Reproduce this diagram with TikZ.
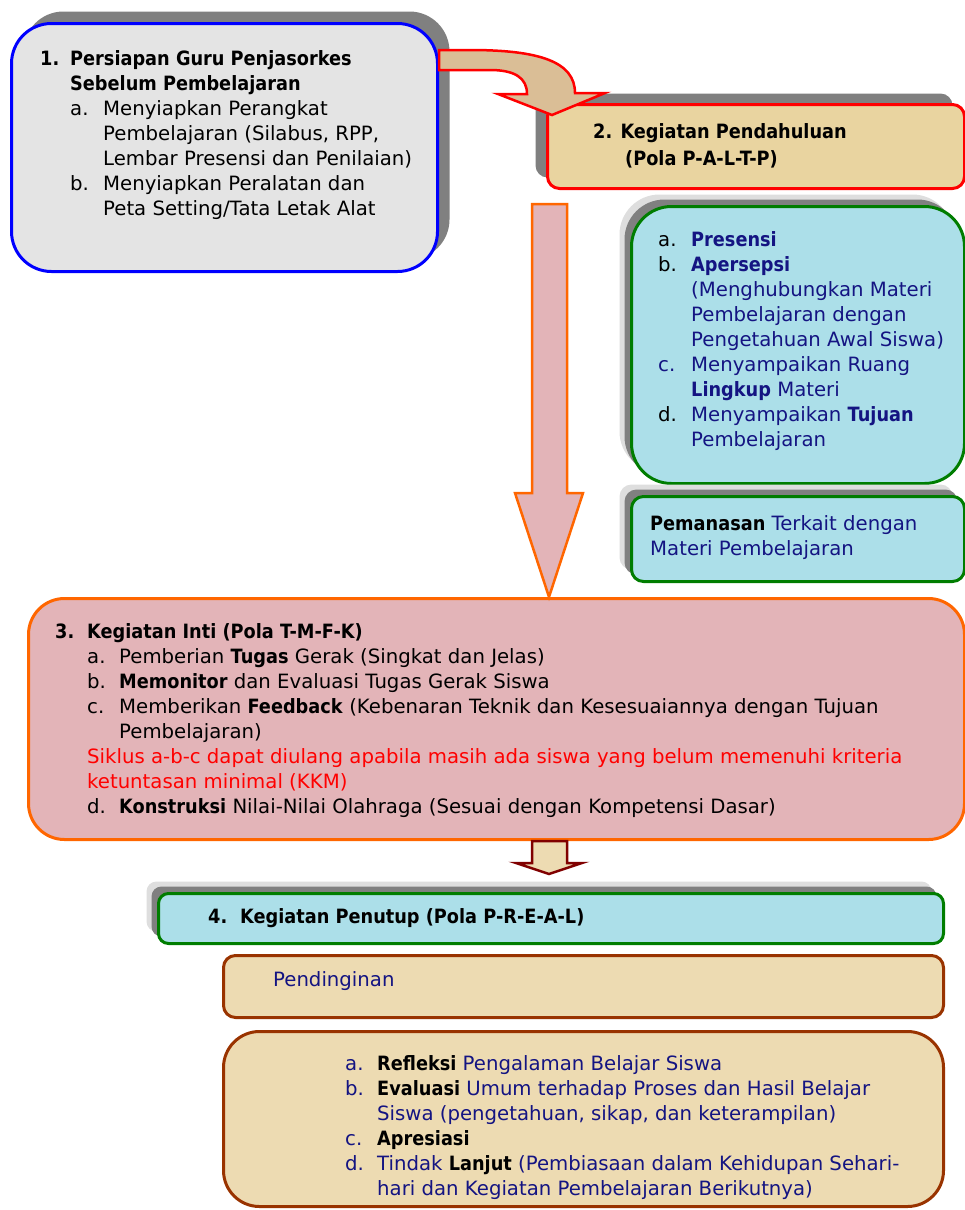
\documentclass[tikz,border=0pt]{standalone}
\usepackage{fontspec}
\setmainfont{DejaVu Sans}[BoldFeatures={FakeStretch=0.9}]
\usetikzlibrary{shadows}
\definecolor{marble}{RGB}{228,228,228}
\definecolor{papyrus}{RGB}{233,212,160}
\definecolor{bentfill}{RGB}{218,190,150}
\definecolor{water}{RGB}{172,223,233}
\definecolor{rose}{RGB}{227,180,184}
\definecolor{parch}{RGB}{237,219,178}
\definecolor{darkgreen}{RGB}{0,125,0}
\definecolor{brick}{RGB}{153,51,0}
\definecolor{maroon}{RGB}{128,0,0}
\definecolor{orng}{RGB}{255,102,0}
\definecolor{navytxt}{RGB}{20,20,130}
\definecolor{shadowgray}{RGB}{128,128,128}
\definecolor{halo}{RGB}{222,222,222}
\newcommand\lbl[2][32pt]{\makebox[#1][l]{#2}}
\newcommand\ind[1][32pt]{\hspace*{#1}}

\begin{document}
\begin{tikzpicture}[x=1pt,y=-1pt,
  box/.style={draw,line width=3pt,anchor=north west,inner sep=0pt},
  txt/.style={anchor=north west,inner sep=0pt,align=left,font=\fontsize{19.7}{25}\selectfont},
  gshadow/.style={drop shadow={shadow xshift=-12pt,shadow yshift=12pt,fill=halo,opacity=1},
                  drop shadow={shadow xshift=-7pt,shadow yshift=7pt,fill=shadowgray,opacity=1}},
  blockarrow/.style={line width=2.5pt,line join=miter}]
\useasboundingbox (0,0) rectangle (964,1210);

\node[box,draw=blue,fill=marble,rounded corners=40pt,minimum width=426pt,minimum height=248pt,
  drop shadow={shadow xshift=12pt,shadow yshift=12pt,fill=shadowgray,opacity=1}] (k1) at (10,22) {};
\node[box,draw=red,fill=papyrus,rounded corners=12pt,minimum width=417pt,minimum height=84pt,
  drop shadow={shadow xshift=-12pt,shadow yshift=11pt,fill=shadowgray,opacity=1}] (k2) at (546,103) {};
\node[box,gshadow,draw=darkgreen,fill=water,rounded corners=40pt,minimum width=333pt,minimum height=277pt] (k2a) at (630,205) {};
\node[box,gshadow,draw=darkgreen,fill=water,rounded corners=12pt,minimum width=333pt,minimum height=85pt] (k2b) at (630,495) {};
\node[box,draw=orng,fill=rose,rounded corners=36pt,minimum width=936pt,minimum height=241pt] (k3) at (27,597) {};
\node[box,gshadow,draw=darkgreen,fill=water,rounded corners=10pt,minimum width=785pt,minimum height=50pt] (k4) at (157,892) {};
\node[box,draw=brick,fill=parch,rounded corners=12pt,minimum width=720pt,minimum height=62pt] (k4a) at (222,954) {};
\node[box,draw=brick,fill=parch,rounded corners=36pt,minimum width=720pt,minimum height=175pt] (k4b) at (222,1030) {};

\draw[blockarrow,draw=red,fill=bentfill] ([yshift=-28pt]k1.north east) -- (470,50)
  .. controls (540,50) and (575,62) .. (575,93) -- (605,93)
  -- ([shift={(6,12)}]k2.north west) -- (498,94) -- (527,94)
  .. controls (527,78) and (515,70) .. (490,70) -- ([yshift=-48pt]k1.north east) -- cycle;

\coordinate (m) at (549,204);
\draw[blockarrow,draw=orng,fill=rose] (532,204) -- (532,493) -- (515,493) -- (m |- k3.north)
  -- (583,493) -- (567,493) -- (567,204) -- cycle;
\draw[blockarrow,draw=maroon,fill=parch] (532,0 |- k3.south) -- (532,863) -- (516,863)
  -- ([yshift=18pt]m |- k4.north) -- (582,863) -- (567,863) -- (567,0 |- k3.south) -- cycle;

\node[txt] (t1) at ([shift={(30,28)}]k1.north west) {\lbl[30pt]{\textbf{1.}}\textbf{Persiapan Guru Penjasorkes}\\
  \ind[30pt]\textbf{Sebelum Pembelajaran}\\
  \ind[30pt]\lbl[33pt]{a.}Menyiapkan Perangkat\\
  \ind[63pt]Pembelajaran (Silabus, RPP,\\
  \ind[63pt]Lembar Presensi dan Penilaian)\\
  \ind[30pt]\lbl[33pt]{b.}Menyiapkan Peralatan dan\\
  \ind[63pt]Peta Setting/Tata Letak Alat};
\node[txt,font=\fontsize{19.7}{27}\selectfont] (t2) at ([shift={(47,20)}]k2.north west) {\textbf{2. Kegiatan Pendahuluan}\\
  \ind\textbf{(Pola P-A-L-T-P)}};
\node[txt,text=navytxt] (t2a) at ([shift={(28,26)}]k2a.north west) {\lbl[33pt]{\color{black}a.}\textbf{Presensi}\\
  \lbl[33pt]{\color{black}b.}\textbf{Apersepsi}\\
  \ind[33pt](Menghubungkan Materi\\
  \ind[33pt]Pembelajaran dengan\\
  \ind[33pt]Pengetahuan Awal Siswa)\\
  \lbl[33pt]{c.}Menyampaikan Ruang\\
  \ind[33pt]\textbf{Lingkup} Materi\\
  \lbl[33pt]{\color{black}d.}Menyampaikan \textbf{Tujuan}\\
  \ind[33pt]Pembelajaran};
\node[txt,text=navytxt] (t2b) at ([shift={(20,20)}]k2b.north west) {\textbf{\color{black}Pemanasan} Terkait dengan\\
  Materi Pembelajaran};
\node[txt] (t3) at ([shift={(28,26)}]k3.north west) {\lbl{\textbf{3.}}\textbf{Kegiatan Inti (Pola T-M-F-K)}\\
  \ind\lbl{a.}Pemberian \textbf{Tugas} Gerak (Singkat dan Jelas)\\
  \ind\lbl{b.}\textbf{Memonitor} dan Evaluasi Tugas Gerak Siswa\\
  \ind\lbl{c.}Memberikan \textbf{Feedback} (Kebenaran Teknik dan Kesesuaiannya dengan Tujuan\\
  \ind[64pt]Pembelajaran)\\
  \ind{\color{red}Siklus a-b-c dapat diulang apabila masih ada siswa yang belum memenuhi kriteria}\\
  \ind{\color{red}ketuntasan minimal (KKM)}\\
  \ind\lbl{d.}\textbf{Konstruksi} Nilai-Nilai Olahraga (Sesuai dengan Kompetensi Dasar)};
\node[txt] (t4) at ([shift={(51,16)}]k4.north west) {\textbf{\lbl{4.}Kegiatan Penutup (Pola P-R-E-A-L)}};
\node[txt,text=navytxt] (t4a) at ([shift={(51,17)}]k4a.north west) {Pendinginan};
\node[txt,text=navytxt] (t4b) at ([shift={(123,25)}]k4b.north west) {\lbl{a.}\textbf{\color{black}Refleksi} Pengalaman Belajar Siswa\\
  \lbl{b.}\textbf{\color{black}Evaluasi} Umum terhadap Proses dan Hasil Belajar\\
  \ind Siswa (pengetahuan, sikap, dan keterampilan)\\
  \lbl{c.}\textbf{\color{black}Apresiasi}\\
  \lbl{d.}Tindak \textbf{\color{black}Lanjut} (Pembiasaan dalam Kehidupan Sehari-\\
  \ind hari dan Kegiatan Pembelajaran Berikutnya)};
\end{tikzpicture}
\end{document}
